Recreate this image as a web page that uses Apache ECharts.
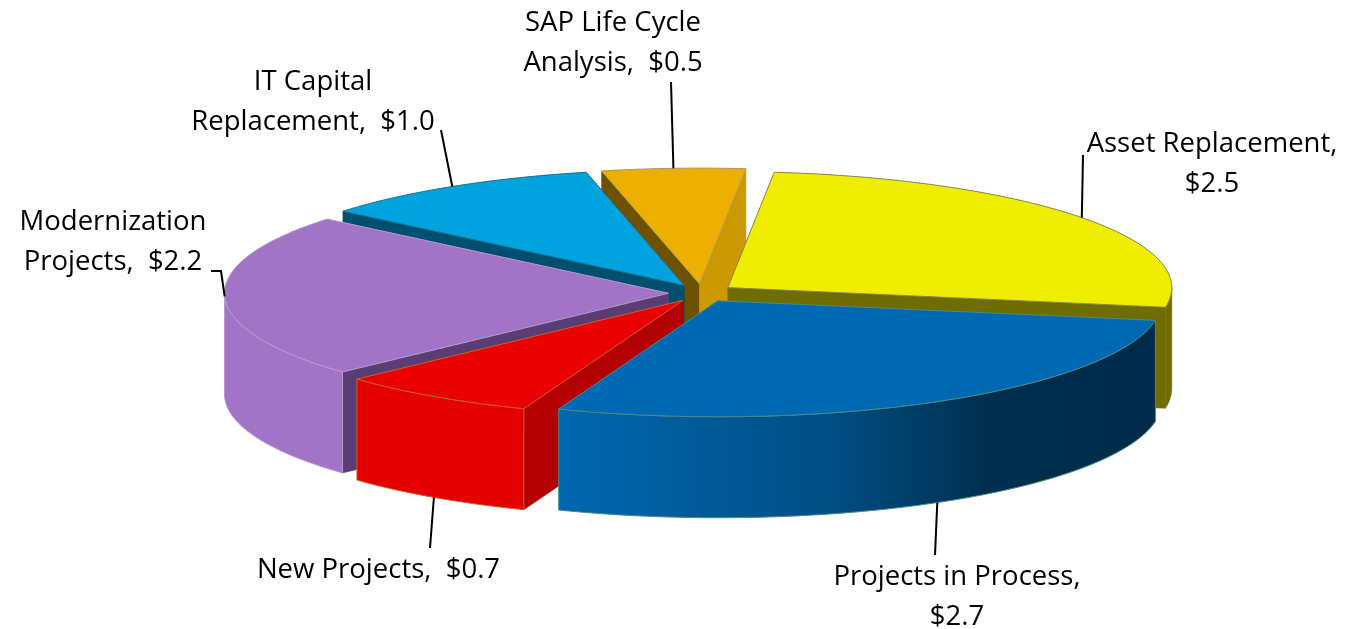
<!DOCTYPE html>
<html><head><meta charset="utf-8">
<script src="https://cdn.jsdelivr.net/npm/echarts@6/dist/echarts.min.js"></script>
<style>html,body{margin:0;padding:0;background:#fff}#c{width:1351px;height:629px}</style>
</head><body><div id="c"></div>
<script>
// Data, clockwise from the top of the pie
const categories = ['Asset Replacement','Projects in Process','New Projects','Modernization Projects','IT Capital Replacement','SAP Life Cycle Analysis'];
const values = [2.5,2.7,0.7,2.2,1.0,0.5];
// Words of the name before the label's line break (0 = single line)
const breakAfter = [2,3,0,1,2,3];

// Pie projection
const CX=701.5, CY=293, RX=444, RY=116, DEPTH=101, EXPLODE=33, ASPECT=0.27, START=6;
const topColors  = ['#f0ee00','#0069b4','#ea0000','#a274c5','#00a3de','#eeb000'];
const outlines   = ['#85854f','#4a8a84','#c9602a','#b79ad0','#1b6f8c','#a89a60'];
const startWall  = ['#6f6d00','#00304f','#b30000','#5a3e73','#014f70','#6e5200'];
const endWall    = ['#6f6d00','#00304f','#b30000','#5a3e73','#014f70','#cc9a00'];
const sideFills  = [
  '#6f6d00',
  {type:'linear',x:0,y:0,x2:1,y2:0,colorStops:[{offset:0,color:'#0068b0'},{offset:.45,color:'#004f86'},{offset:.72,color:'#002f50'},{offset:1,color:'#002b4a'}]},
  '#e40000','#a274c5','#00a3de','#eeb000'];
const paintRank  = [3,6,5,4,2,1];
const labelBox   = [[1212,164],[957,597],[378.5,570],[113,242],[313,102],[613,43]];
const leaderEnds = [[[1083,155]],[[935,555]],[[430,548]],[[221,271],[211,271]],[[441,130]],[[671,82]]];
const FONT = 'Open Sans';

const total = values.reduce((a,b)=>a+b,0);
const rad = d=>d*Math.PI/180;

function renderItem(params, api){
  const i = params.dataIndex, v = api.value(0);
  const before = values.slice(0,i).reduce((a,b)=>a+b,0);
  const a0 = START + before/total*360, a1 = a0 + v/total*360, mid=(a0+a1)/2;
  const ox = CX + EXPLODE*Math.sin(rad(mid)), oy = CY - EXPLODE*ASPECT*Math.cos(rad(mid));
  const rim = (a,h=0)=>[ox+RX*Math.sin(rad(a)), oy-RY*Math.cos(rad(a))+h];
  const arc = (s,e,h=0)=>{const p=[],n=Math.max(2,Math.ceil(Math.abs(e-s)/1.5));for(let k=0;k<=n;k++)p.push(rim(s+(e-s)*k/n,h));return p;};
  const z = paintRank[i]*10, kids=[];
  const poly=(points,fill,stroke,zo,lw=1)=>kids.push({type:'polygon',shape:{points},z2:z+zo,style:{fill,stroke:stroke||fill,lineWidth:stroke?lw:0.5}});

  // cut walls, only when they face the viewer
  if(-Math.cos(rad(a0-90))>0) poly([[ox,oy],rim(a0),rim(a0,DEPTH),[ox,oy+DEPTH]],startWall[i],null,0);
  if(-Math.cos(rad(a1+90))>0) poly([[ox,oy],rim(a1),rim(a1,DEPTH),[ox,oy+DEPTH]],endWall[i],null,0);
  // outer wall
  const s=Math.max(a0,90), e=Math.min(a1,270);
  if(e>s) poly(arc(s,e).concat(arc(s,e,DEPTH).reverse()),sideFills[i],i===0?null:outlines[i],1);
  // top face
  poly([[ox,oy]].concat(arc(a0,a1)),topColors[i],outlines[i],2);

  // leader line from the rim at the slice's middle angle, then the label
  const front = Math.cos(rad(mid))<-0.5;
  const pts=[rim(mid,front?DEPTH:0)].concat(leaderEnds[i]);
  kids.push({type:'polyline',shape:{points:pts},z2:z+3,style:{fill:'none',stroke:'#000',lineWidth:2}});
  const words=categories[i].split(' '), b=breakAfter[i];
  const val='$'+v.toFixed(1);
  let text;
  if(b===0) text=words.join(' ')+',  '+val;
  else if(b===words.length) text=words.join(' ')+',\n'+val;
  else text=words.slice(0,b).join(' ')+'\n'+words.slice(b).join(' ')+',  '+val;
  kids.push({type:'text',x:labelBox[i][0],y:labelBox[i][1],z2:100,style:{text,fill:'#000',fontFamily:FONT,fontSize:27.5,lineHeight:40,align:'center',verticalAlign:'middle'}});
  return {type:'group',children:kids};
}

const chart=echarts.init(document.getElementById('c'),null,{renderer:'canvas'});
chart.setOption({
  animation:false,backgroundColor:'#fff',
  series:[{type:'custom',coordinateSystem:'none',silent:true,renderItem,
    data:values.map((v,i)=>({name:categories[i],value:[v]}))}]
});
</script></body></html>
